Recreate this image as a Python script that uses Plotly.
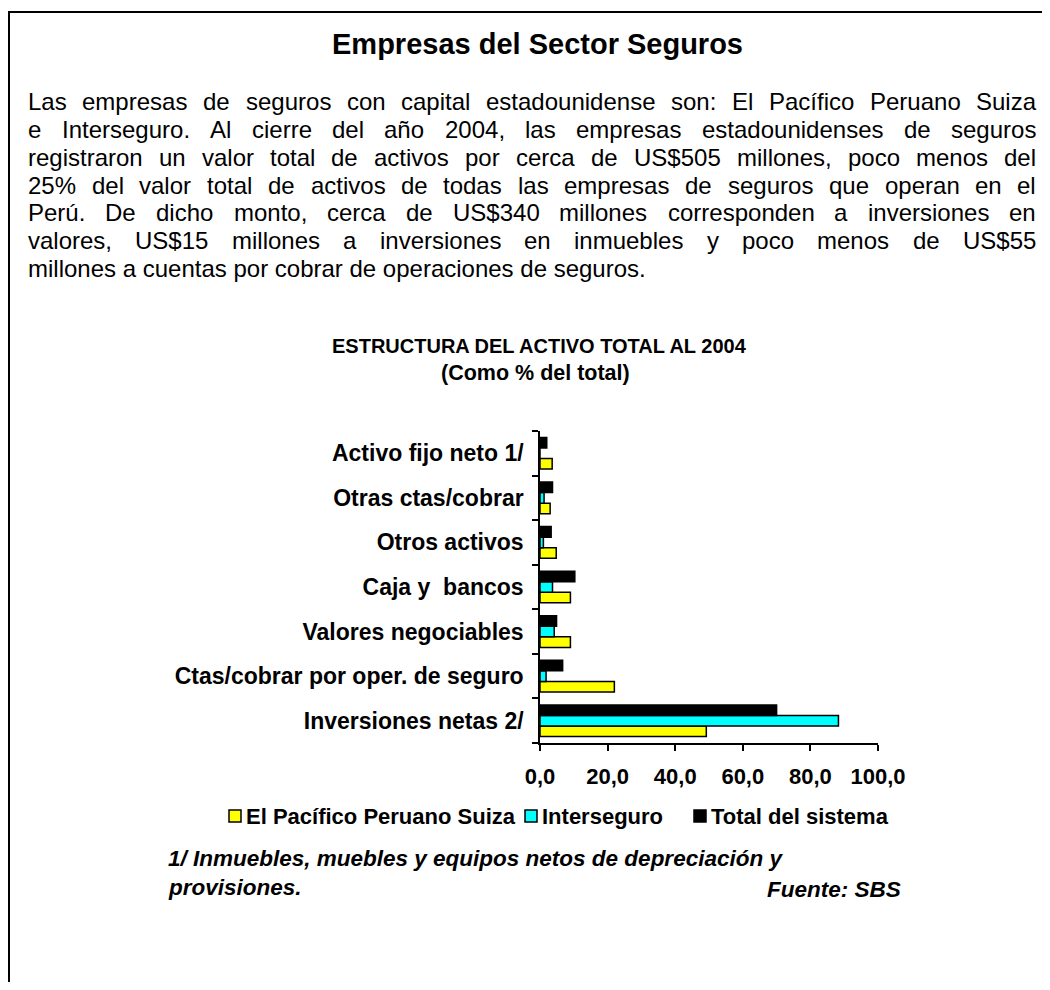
import plotly.graph_objects as go

# figure is 16px smaller than the window so the page (with the default 8px body margin) fits exactly
W, H = 1034, 974
OFF = 8

categories = ["Inversiones netas 2/", "Ctas/cobrar por oper. de seguro", "Valores negociables",
              "Caja y  bancos", "Otros activos", "Otras ctas/cobrar", "Activo fijo neto 1/"]
pacifico = [49.2, 22.0, 9.0, 9.0, 4.8, 3.0, 3.6]
interseguro = [88.3, 1.8, 4.2, 3.7, 1.0, 1.2, 0.0]
total = [70.0, 6.7, 4.9, 10.3, 3.3, 3.7, 2.0]
series_names = ["El Pacífico Peruano Suiza", "Interseguro", "Total del sistema"]
series_colors = ["#FFFF00", "#00FFFF", "#000000"]
x_ticks = [0, 20, 40, 60, 80, 100]

title = "Empresas del Sector Seguros"
paragraph_lines = [
    "Las empresas de seguros con capital estadounidense son: El Pacífico Peruano Suiza",
    "e Interseguro. Al cierre del año 2004, las empresas estadounidenses de seguros",
    "registraron un valor total de activos por cerca de US$505 millones, poco menos del",
    "25% del valor total de activos de todas las empresas de seguros que operan en el",
    "Perú. De dicho monto, cerca de US$340 millones corresponden a inversiones en",
    "valores, US$15 millones a inversiones en inmuebles y poco menos de US$55",
    "millones a cuentas por cobrar de operaciones de seguros.",
]
chart_title = "ESTRUCTURA DEL ACTIVO TOTAL AL 2004"
chart_subtitle = "(Como % del total)"
footnote_lines = ["1/ Inmuebles, muebles y equipos netos de depreciación y", "provisiones."]
source = "Fuente: SBS"

FONT = "Liberation Sans, Arial, sans-serif"

# Arial / Liberation Sans advance widths (1/1000 em) for justified text layout
AW = {' ': 278, '$': 556, '%': 889, ',': 278, '.': 278, ':': 278,
      'A': 667, 'B': 667, 'C': 722, 'D': 722, 'E': 667, 'F': 611, 'G': 778, 'H': 722, 'I': 278,
      'J': 500, 'K': 667, 'L': 556, 'M': 833, 'N': 722, 'O': 778, 'P': 667, 'Q': 778, 'R': 722,
      'S': 667, 'T': 611, 'U': 722, 'V': 667, 'W': 944, 'X': 667, 'Y': 667, 'Z': 611,
      'a': 556, 'b': 556, 'c': 500, 'd': 556, 'e': 556, 'f': 278, 'g': 556, 'h': 556, 'i': 222,
      'j': 222, 'k': 500, 'l': 222, 'm': 833, 'n': 556, 'o': 556, 'p': 556, 'q': 556, 'r': 333,
      's': 500, 't': 278, 'u': 556, 'v': 500, 'w': 722, 'x': 500, 'y': 500, 'z': 500,
      'á': 556, 'é': 556, 'í': 278, 'ó': 556, 'ú': 556, 'ñ': 556}
for d in "0123456789":
    AW[d] = 556


def tw(s, size):
    return sum(AW.get(c, 556) for c in s) * size / 1000.0


def px(x):
    return (x - OFF) / W


def py(y):
    return 1 - (y - OFF) / H


fig = go.Figure()
for name, vals, col in zip(series_names, [pacifico, interseguro, total], series_colors):
    fig.add_trace(go.Bar(
        y=categories, x=vals, name=name, orientation="h",
        marker=dict(color=col, line=dict(color="black", width=1.5)),
    ))


def ann(text, x, y, size, xanchor="left", bold=False, italic=False):
    f = dict(family=FONT, size=size, color="black")
    if bold:
        f["weight"] = "bold"
    if italic:
        f["style"] = "italic"
    return dict(text=text, x=px(x), y=py(y), xref="paper", yref="paper", showarrow=False,
                xanchor=xanchor, yanchor="middle", borderpad=0, borderwidth=0, font=f)


annotations = [ann(title, 537, 44, 29, "center", bold=True)]

# justified paragraph
PS = 24
X0, X1 = 28, 1036
y0_line, dy = 101, 28.0
for i, line in enumerate(paragraph_lines):
    yy = y0_line + i * dy
    if i == len(paragraph_lines) - 1:
        annotations.append(ann(line, X0, yy, PS))
        continue
    words = line.split(" ")
    gap = (X1 - X0 - sum(tw(w, PS) for w in words)) / (len(words) - 1)
    x = X0
    for w in words:
        annotations.append(ann(w, x, yy, PS))
        x += tw(w, PS) + gap

annotations.append(ann(chart_title, 539, 346, 20, "center", bold=True))
annotations.append(ann(chart_subtitle, 535, 373, 21.5, "center", bold=True))
annotations.append(ann(footnote_lines[0], 168, 858, 22.5, bold=True, italic=True))
annotations.append(ann(footnote_lines[1], 168, 887, 22.5, bold=True, italic=True))
annotations.append(ann(source, 901, 889, 22.5, "right", bold=True, italic=True))

# legend (drawn as boxes + labels to match the compact spacing of the original)
legend_box_x = [229, 525, 694]
legend_y = 816
shapes = [dict(type="rect", xref="paper", yref="paper",
               x0=px(9), x1=px(1100), y0=py(1030), y1=py(12),
               line=dict(color="black", width=2), fillcolor="rgba(0,0,0,0)")]
for bx, name, col in zip(legend_box_x, series_names, series_colors):
    shapes.append(dict(type="rect", xref="paper", yref="paper",
                       x0=px(bx), x1=px(bx + 12), y0=py(legend_y + 6), y1=py(legend_y - 6),
                       line=dict(color="black", width=1.5), fillcolor=col))
    annotations.append(ann(name, bx + 17, legend_y, 22, bold=True))

fig.update_layout(
    template="none",
    width=W, height=H, autosize=False,
    margin=dict(l=0, r=0, t=0, b=0, pad=0, autoexpand=False),
    paper_bgcolor="white", plot_bgcolor="white",
    barmode="group", bargap=0.29, bargroupgap=0,
    separators=",.",
    font=dict(family=FONT, color="black"),
    showlegend=False,
    annotations=annotations,
    shapes=shapes,
    xaxis=dict(domain=[px(540), px(878)], range=[0, 100], tickvals=x_ticks, tickformat=".1f",
               automargin=False,
               showgrid=False, zeroline=False, showline=True, linecolor="black", linewidth=1.5,
               ticks="outside", ticklen=6, tickcolor="black", tickwidth=1.5,
               ticklabelstandoff=7,
               tickfont=dict(family=FONT, size=22, color="black", weight="bold")),
    yaxis=dict(domain=[py(743), py(431)], type="category", categoryorder="array",
               categoryarray=categories, showgrid=False, zeroline=False, showline=True,
               automargin=False,
               linecolor="black", linewidth=1.5, ticks="outside", ticklen=6, tickcolor="black",
               tickwidth=1.5, tickson="boundaries", ticklabelstandoff=10,
               tickfont=dict(family=FONT, size=23, color="black", weight="bold")),
)

fig.write_html("out.html")
